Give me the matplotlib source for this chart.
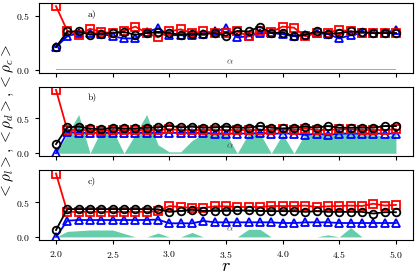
import numpy as np
import matplotlib
matplotlib.use("Agg")
import matplotlib.pyplot as plt

plt.rcParams['font.family'] = 'serif'
plt.rcParams['font.serif'] = ['cmr10', 'DejaVu Serif']
plt.rcParams['mathtext.fontset'] = 'cm'
plt.rcParams['axes.formatter.use_mathtext'] = True

r = np.round(np.arange(2.0, 5.01, 0.1), 1)

# panel a)
a_red = [0.59, 0.36, 0.32, 0.38, 0.35, 0.34, 0.36, 0.40, 0.34, 0.30, 0.355, 0.375, 0.34, 0.355,
         0.345, 0.34, 0.355, 0.31, 0.36, 0.35, 0.40, 0.39, 0.31, 0.34, 0.345, 0.37, 0.355, 0.34,
         0.34, 0.345, 0.34]
a_blue = [0.21, 0.31, 0.34, 0.34, 0.333, 0.31, 0.29, 0.29, 0.35, 0.385, 0.32, 0.32, 0.32, 0.333,
          0.355, 0.385, 0.30, 0.31, 0.34, 0.34, 0.33, 0.31, 0.32, 0.34, 0.33, 0.29, 0.32, 0.34,
          0.34, 0.34, 0.37]
a_black = [0.21, 0.355, 0.355, 0.324, 0.333, 0.34, 0.35, 0.324, 0.34, 0.35, 0.34, 0.324, 0.333,
           0.33, 0.34, 0.315, 0.36, 0.355, 0.40, 0.34, 0.345, 0.315, 0.324, 0.355, 0.333, 0.34,
           0.355, 0.35, 0.34, 0.34, 0.34]
a_alpha = [0.004] * 31

# panel b)
b_red = [0.90, 0.33, 0.33, 0.33, 0.32, 0.33, 0.33, 0.33, 0.33, 0.33, 0.34, 0.33, 0.33, 0.33,
         0.33, 0.33, 0.33, 0.33, 0.33, 0.33, 0.34, 0.33, 0.35, 0.33, 0.33, 0.34, 0.34, 0.33,
         0.33, 0.33, 0.34]
b_blue = [0.0, 0.30, 0.29, 0.29, 0.29, 0.29, 0.29, 0.29, 0.29, 0.29, 0.29, 0.29, 0.29, 0.29,
          0.28, 0.28, 0.28, 0.28, 0.29, 0.28, 0.28, 0.28, 0.26, 0.28, 0.26, 0.28, 0.28, 0.28,
          0.28, 0.28, 0.28]
b_black = [0.13, 0.37, 0.377, 0.353, 0.34, 0.363, 0.353, 0.353, 0.363, 0.367, 0.39, 0.367, 0.377,
           0.363, 0.367, 0.377, 0.363, 0.363, 0.386, 0.363, 0.353, 0.363, 0.377, 0.363, 0.386,
           0.363, 0.363, 0.363, 0.363, 0.386, 0.386]
b_alpha = [0.0, 0.27, 0.55, 0.0, 0.33, 0.33, 0.0, 0.27, 0.55, 0.12, 0.02, 0.02, 0.18, 0.28,
           0.28, 0.28, 0.0, 0.28, 0.28, 0.0, 0.27, 0.0, 0.28, 0.28, 0.28, 0.28, 0.28, 0.28,
           0.28, 0.23, 0.28]

# panel c)
c_red = [0.91, 0.36, 0.36, 0.36, 0.36, 0.36, 0.36, 0.36, 0.36, 0.37, 0.444, 0.43, 0.416, 0.416,
         0.44, 0.44, 0.43, 0.43, 0.43, 0.444, 0.444, 0.444, 0.45, 0.43, 0.44, 0.444, 0.45, 0.444,
         0.477, 0.45, 0.46]
c_blue = [0.0, 0.234, 0.243, 0.243, 0.243, 0.243, 0.243, 0.243, 0.243, 0.25, 0.196, 0.196, 0.196,
          0.23, 0.21, 0.21, 0.21, 0.21, 0.21, 0.21, 0.2, 0.2, 0.21, 0.21, 0.21, 0.2, 0.2, 0.2,
          0.2, 0.2, 0.2]
c_black = [0.10, 0.40, 0.40, 0.40, 0.40, 0.40, 0.40, 0.40, 0.40, 0.397, 0.36, 0.374, 0.39, 0.374,
           0.374, 0.374, 0.38, 0.38, 0.374, 0.37, 0.37, 0.37, 0.36, 0.37, 0.36, 0.36, 0.36,
           0.36, 0.336, 0.355, 0.355]
c_alpha = [0.0, 0.08, 0.09, 0.1, 0.1, 0.1, 0.05, 0.0, 0.0, 0.056, 0.0, 0.0, 0.065, 0.0, 0.0,
           0.0, 0.0, 0.11, 0.11, 0.0, 0.0, 0.0, 0.0, 0.0, 0.03, 0.0, 0.135, 0.0, 0.0, 0.0, 0.0]

panels = [
    ("a)", a_red, a_blue, a_black, a_alpha),
    ("b)", b_red, b_blue, b_black, b_alpha),
    ("c)", c_red, c_blue, c_black, c_alpha),
]

fig, axes = plt.subplots(3, 1, figsize=(4.15, 2.76), dpi=100, sharex=True)
fig.subplots_adjust(left=0.094, right=0.995, top=0.989, bottom=0.13, hspace=0.2)

for ax, (lab, red, blue, black, alpha) in zip(axes, panels):
    ax.fill_between(r, 0, alpha, color='mediumaquamarine', lw=0)
    ax.plot(r, blue, '-^', color='b', mfc='none', ms=5.5, mew=1.3, lw=1.3)
    ax.plot(r, red, '-s', color='r', mfc='none', ms=5.5, mew=1.3, lw=1.3)
    ax.plot(r, black, '-o', color='k', mfc='none', ms=5.5, mew=1.3, lw=1.3)
    ax.text(0.13, 0.82, lab, transform=ax.transAxes, fontsize=7)
    ax.text(0.5, 0.12, r'$\alpha$', transform=ax.transAxes, fontsize=7, color='0.3')
    ax.set_yticks([0.0, 0.5])
    ax.tick_params(labelsize=7, length=3)

axes[-1].set_xticks([2.0, 2.5, 3.0, 3.5, 4.0, 4.5, 5.0])
axes[-1].set_xlabel(r'$r$', fontsize=13, labelpad=-1)
fig.text(0.02, 0.56, r'$<\rho_l>, <\rho_d>, <\rho_c>$', rotation=90,
         ha='center', va='center', fontsize=11)

fig.savefig('out.png', dpi=100)
